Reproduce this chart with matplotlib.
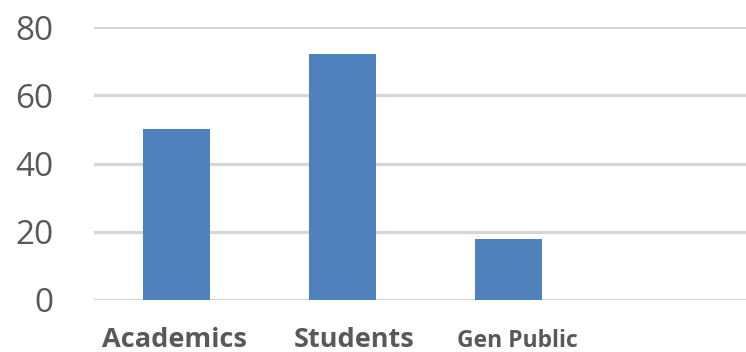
import matplotlib
matplotlib.use('Agg')
import matplotlib.pyplot as plt

categorias = ['Academics', 'Students', 'Gen Public']
valores = [50, 72, 18]
yticks = [0, 20, 40, 60, 80]

plt.rcParams['font.family'] = ['Open Sans', 'DejaVu Sans']

fig = plt.figure(figsize=(7.46, 3.52), dpi=100)
ax = fig.add_axes([93.5/746, 52/352, 664/746, 273/352])

x = list(range(len(categorias)))
ax.bar(x, valores, width=0.4, color='#4f81bd', zorder=3)

ax.set_xlim(-0.5, 3.5)
ax.set_ylim(0, 80)
ax.set_yticks(yticks)
ax.grid(axis='y', color='#d6d6d6', linewidth=2.3, zorder=0)
ax.set_axisbelow(True)
for s in ax.spines.values():
    s.set_visible(False)

# rótulos das categorias desenhados à mão (tamanhos e desvios diferentes)
ax.set_xticks(x)
ax.set_xticklabels([])
tamanhos = [19.5, 19.5, 16.5]
desvios = [-1.5, 8.5, 6.5]
for i, nome in enumerate(categorias):
    ax.annotate(nome, xy=(i, 0), xycoords=('data', 'axes fraction'),
                xytext=(desvios[i], -34), textcoords='offset points',
                ha='center', va='baseline', fontsize=tamanhos[i],
                fontweight='bold', color='#595959')
ax.tick_params(axis='x', length=0)
ax.tick_params(axis='y', length=0, pad=29, labelsize=24, labelcolor='#595959')

fig.savefig('out.png', dpi=100)
